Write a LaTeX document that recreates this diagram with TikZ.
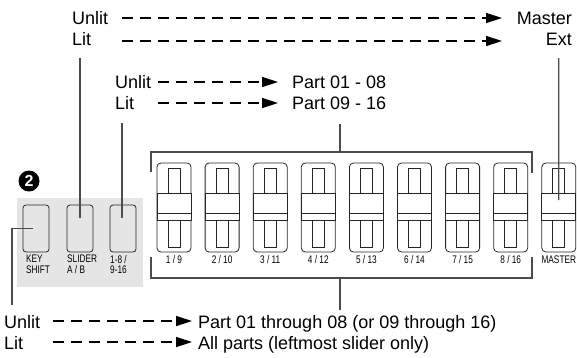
\documentclass[tikz,border=0pt]{standalone}
\usepackage{fontspec}
\setmainfont{Liberation Sans}
\newfontfamily\labfont[FakeStretch=0.75]{Liberation Sans}
\usetikzlibrary{arrows.meta}
\begin{document}
\begin{tikzpicture}[x=1pt,y=-1pt,
  txt/.style={inner sep=0pt,font=\fontsize{18}{18}\selectfont},
  lab/.style={inner sep=0pt,font=\labfont\fontsize{11}{10.5}\selectfont},
  dasharrow/.style={line width=1.4pt,dash pattern=on 11pt off 7pt,-{Triangle[length=16pt,width=10pt]}},
  conn/.style={draw=black!70,line width=1.3pt},
  part/.style={draw=black!85,line width=0.8pt},
  btn/.style={part,rounded corners=3pt,minimum width=26pt,minimum height=47pt,inner sep=0pt},
  slbody/.style={part,rounded corners=4pt,minimum width=34pt,minimum height=89pt,inner sep=0pt},
]
\useasboundingbox (0,0) rectangle (577,357);

% texts
\node[txt,anchor=base west] (u1) at (72,24) {Unlit};
\node[txt,anchor=base west] (l1) at (72,45) {Lit};
\node[txt,anchor=base east] (m1) at (572,24) {Master};
\node[txt,anchor=base east] (e1) at (572,45) {Ext};
\node[txt,anchor=base west] (u2) at (115,88) {Unlit};
\node[txt,anchor=base west] (l2) at (115,109) {Lit};
\node[txt,anchor=base west] (p1) at (292,88) {Part 01 - 08};
\node[txt,anchor=base west] (p2) at (292,109) {Part 09 - 16};
\node[txt,anchor=base west] (u3) at (4,328) {Unlit};
\node[txt,anchor=base west] (l3) at (4,349) {Lit};
\node[txt,anchor=base west] (b1) at (198,328) {Part 01 through 08 (or 09 through 16)};
\node[txt,anchor=base west] (b2) at (198,349) {All parts (leftmost slider only)};

% dashed arrows
\coordinate (a1s) at (122,18);  \coordinate (a1e) at (502,18);
\coordinate (a2s) at (122,41);  \coordinate (a2e) at (502,41);
\coordinate (a3s) at (158,82);  \coordinate (a3e) at (278,82);
\coordinate (a4s) at (158,103); \coordinate (a4e) at (278,103);
\coordinate (a5s) at (53,321);  \coordinate (a5e) at (192,321);
\coordinate (a6s) at (53,342);  \coordinate (a6e) at (192,342);
\foreach \k in {1,...,6} {\draw[dasharrow] (a\k s) -- (a\k e);}

% left panel
\fill[black!10] (17,198) rectangle (143,287);
\node[circle,fill=black,text=white,inner sep=0pt,minimum size=21pt,
      font=\bfseries\fontsize{16}{16}\selectfont] (num) at (29,181) {2};
\node[btn] (ks) at (36,228.5) {};
\node[btn] (sab) at (80,228.5) {};
\node[btn] (sw) at (123,228.5) {};
\node[lab,align=left,anchor=north west] (ksl) at (26,255) {KEY\\SHIFT};
\node[lab,align=left,anchor=north west] (sabl) at (67,255) {SLIDER\\A / B};
\node[lab,align=left,anchor=north west] (swl) at (110,255) {1-8 /\\9-16};

% sliders
\foreach \i in {0,...,8} {
  \pgfmathsetmacro\xx{157+48.1*\i}
  \node[slbody] (s\i) at (\xx+17,207.5) {};
  \draw[part] (\xx+11,168) rectangle (\xx+23,247);
  \draw[part,fill=white] (\xx,193) rectangle (\xx+34,220);
  \draw[part] (\xx,213) -- (\xx+34,213);
}
\foreach \i in {0,...,7} {
  \node[lab,anchor=base] (t\i) at ([yshift=-56pt]s\i.center) {\the\numexpr\i+1\relax{} / \the\numexpr\i+9\relax};
}
\node[lab,anchor=base] (t8) at ([yshift=-56pt]s8.center) {MASTER};

% brackets
\draw[conn] (151,172) |- (532,152) -- (532,173);
\draw[conn] (151,257) |- (532,278) -- (532,257);

% connectors
\coordinate (mtop) at (558.8,58);
\draw[conn] (mtop) -- ([yshift=7.5pt]s8.center);
\coordinate (sabtop) at (80,58);
\draw[conn] (sabtop) -- ([yshift=11pt]sab.center);
\coordinate (swtop) at (122,123);
\draw[conn] (swtop) -- ([xshift=-1pt,yshift=11pt]sw.center);
\coordinate (ksbot) at (12,305);
\draw[conn] ([xshift=-3pt]ks.center) -| (ksbot);
\coordinate (btop) at (340,152);
\coordinate (ptxt) at (340,124);
\draw[conn] (btop) -- (ptxt);
\coordinate (bbot) at (340,278);
\coordinate (btxt) at (340,310);
\draw[conn] (bbot) -- (btxt);
\end{tikzpicture}
\end{document}
